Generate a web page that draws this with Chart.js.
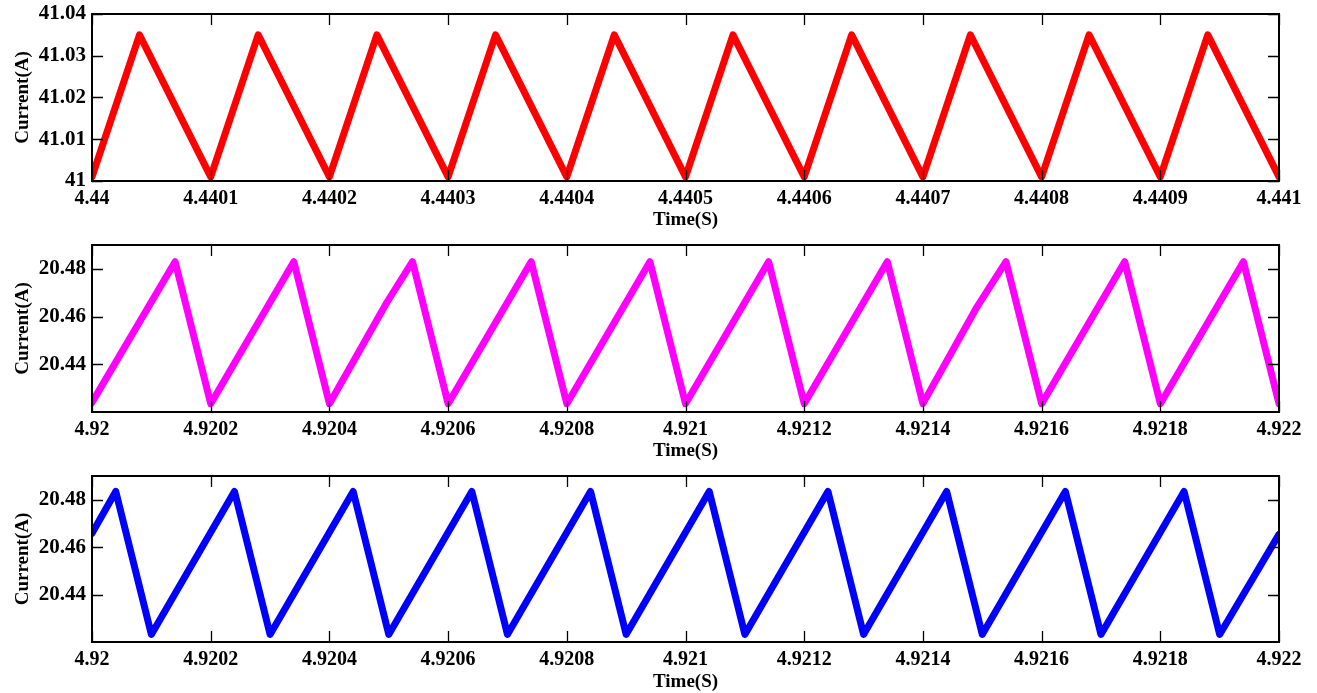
<!DOCTYPE html>
<html lang="en">
<head>
    <meta charset="UTF-8">
    <title>Current waveforms</title>
    <style>
        html, body { margin: 0; padding: 0; background: #fff; }
        .panel { position: absolute; left: 0; width: 1317px; }
        #p1 { top: 0; height: 231px; }
        #p2 { top: 231px; height: 231px; }
        #p3 { top: 462px; height: 231px; }
    </style>
</head>
<body>
    <div class="panel" id="p1"><canvas id="chart1"></canvas></div>
    <div class="panel" id="p2"><canvas id="chart2"></canvas></div>
    <div class="panel" id="p3"><canvas id="chart3"></canvas></div>

    <script src="https://cdn.jsdelivr.net/npm/chart.js"></script>
    <script>
        // Panel 1 - red triangle wave
        const time1 = [4.44, 4.44004, 4.4401, 4.44014, 4.4402, 4.44024, 4.4403, 4.44034, 4.4404, 4.44044,
                       4.4405, 4.44054, 4.4406, 4.44064, 4.4407, 4.44074, 4.4408, 4.44084, 4.4409, 4.44094, 4.441];
        const current1 = [41.001, 41.035, 41.001, 41.035, 41.001, 41.035, 41.001, 41.035, 41.001, 41.035,
                          41.001, 41.035, 41.001, 41.035, 41.001, 41.035, 41.001, 41.035, 41.001, 41.035, 41.001];
        const xTicks1 = [4.44, 4.4401, 4.4402, 4.4403, 4.4404, 4.4405, 4.4406, 4.4407, 4.4408, 4.4409, 4.441];
        const xLabels1 = ['4.44', '4.4401', '4.4402', '4.4403', '4.4404', '4.4405', '4.4406', '4.4407', '4.4408', '4.4409', '4.441'];
        const yTicks1 = [41, 41.01, 41.02, 41.03, 41.04];
        const yLabels1 = ['41', '41.01', '41.02', '41.03', '41.04'];

        // Panel 2 - magenta sawtooth
        const time2 = [4.92, 4.92014, 4.9202, 4.92034, 4.9204, 4.920497, 4.92054, 4.9206, 4.92074, 4.9208,
                       4.92094, 4.921, 4.92114, 4.9212, 4.92134, 4.9214, 4.921491, 4.92154, 4.9216, 4.92174,
                       4.9218, 4.92194, 4.922];
        const current2 = [20.424, 20.483, 20.4235, 20.483, 20.4235, 20.466, 20.483, 20.4235, 20.483, 20.4235,
                          20.483, 20.4235, 20.483, 20.4235, 20.483, 20.4235, 20.464, 20.483, 20.4235, 20.483,
                          20.4235, 20.483, 20.4235];

        // Panel 3 - blue sawtooth
        const time3 = [4.92, 4.92004, 4.9201, 4.92024, 4.9203, 4.92044, 4.9205, 4.92064, 4.9207, 4.92084,
                       4.9209, 4.92104, 4.9211, 4.92124, 4.9213, 4.92144, 4.9215, 4.92164, 4.9217, 4.92184,
                       4.9219, 4.922];
        const current3 = [20.4658, 20.4835, 20.4232, 20.4835, 20.4232, 20.4835, 20.4232, 20.4835, 20.4232, 20.4835,
                          20.4232, 20.4835, 20.4232, 20.4835, 20.4232, 20.4835, 20.4232, 20.4835, 20.4232, 20.4835,
                          20.4232, 20.4654];

        const xTicks2 = [4.92, 4.9202, 4.9204, 4.9206, 4.9208, 4.921, 4.9212, 4.9214, 4.9216, 4.9218, 4.922];
        const xLabels2 = ['4.92', '4.9202', '4.9204', '4.9206', '4.9208', '4.921', '4.9212', '4.9214', '4.9216', '4.9218', '4.922'];
        const yTicks2 = [20.44, 20.46, 20.48];
        const yLabels2 = ['20.44', '20.46', '20.48'];

        const FONT = "'Liberation Serif', 'Times New Roman', serif";

        // Box around the plot and inward tick marks on all four sides
        const frameTicks = {
            id: 'frameTicks',
            afterDatasetsDraw(chart) {
                const { ctx, chartArea: a, scales: { x, y } } = chart;
                const len = 11;
                ctx.save();
                ctx.strokeStyle = '#000';
                ctx.lineWidth = 1.3;
                ctx.beginPath();
                x.ticks.forEach(t => {
                    const px = Math.round(x.getPixelForValue(t.value)) + 0.5;
                    ctx.moveTo(px, a.bottom); ctx.lineTo(px, a.bottom - len);
                    ctx.moveTo(px, a.top); ctx.lineTo(px, a.top + len);
                });
                y.ticks.forEach(t => {
                    const py = Math.round(y.getPixelForValue(t.value)) + 0.5;
                    ctx.moveTo(a.left, py); ctx.lineTo(a.left + len, py);
                    ctx.moveTo(a.right, py); ctx.lineTo(a.right - len, py);
                });
                ctx.stroke();
                ctx.lineWidth = 2;
                ctx.strokeRect(a.left, a.top, a.right - a.left, a.bottom - a.top);
                ctx.restore();
            }
        };

        function makeChart(id, xs, ys, color, xMin, xMax, xTicks, xLabels, yMin, yMax, yTicks, yLabels, xHeight) {
            const points = xs.map((t, i) => ({ x: t, y: ys[i] }));
            return new Chart(document.getElementById(id).getContext('2d'), {
                type: 'line',
                data: {
                    datasets: [{
                        data: points,
                        borderColor: color,
                        borderWidth: 7,
                        borderJoinStyle: 'round',
                        borderCapStyle: 'round',
                        pointRadius: 0,
                        tension: 0,
                        fill: false
                    }]
                },
                options: {
                    responsive: true,
                    maintainAspectRatio: false,
                    animation: false,
                    layout: { padding: { top: 14, right: 38, left: 0, bottom: 0 } },
                    plugins: { legend: { display: false }, tooltip: { enabled: false } },
                    scales: {
                        x: {
                            type: 'linear',
                            min: xMin,
                            max: xMax,
                            grid: { display: false, drawTicks: false },
                            border: { display: false },
                            afterBuildTicks: s => { s.ticks = xTicks.map(v => ({ value: v })); },
                            afterFit: s => { s.height = xHeight; s.paddingLeft = 0; s.paddingRight = 0; },
                            ticks: {
                                autoSkip: false,
                                maxRotation: 0,
                                padding: 6,
                                color: '#000',
                                font: { family: FONT, size: 20, weight: 'bold' },
                                callback: (v, i) => xLabels[i]
                            },
                            title: {
                                display: true,
                                text: 'Time(S)',
                                color: '#000',
                                padding: { top: 0, bottom: 0 },
                                font: { family: FONT, size: 19, weight: 'bold' }
                            }
                        },
                        y: {
                            min: yMin,
                            max: yMax,
                            grid: { display: false, drawTicks: false },
                            border: { display: false },
                            afterBuildTicks: s => { s.ticks = yTicks.map(v => ({ value: v })); },
                            afterFit: s => { s.width = 92; s.paddingTop = 0; s.paddingBottom = 0; },
                            ticks: {
                                padding: 6,
                                color: '#000',
                                font: { family: FONT, size: 21, weight: 'bold' },
                                callback: (v, i) => yLabels[i]
                            },
                            title: {
                                display: true,
                                text: 'Current(A)',
                                color: '#000',
                                padding: { top: 12, bottom: 0 },
                                font: { family: FONT, size: 19, weight: 'bold' }
                            }
                        }
                    }
                },
                plugins: [frameTicks]
            });
        }

        makeChart('chart1', time1, current1, '#ff0000', 4.44, 4.441, xTicks1, xLabels1, 41, 41.04, yTicks1, yLabels1, 50);
        makeChart('chart2', time2, current2, '#ff00ff', 4.92, 4.922, xTicks2, xLabels2, 20.42, 20.49, yTicks2, yLabels2, 50);
        makeChart('chart3', time3, current3, '#0000ff', 4.92, 4.922, xTicks2, xLabels2, 20.42, 20.49, yTicks2, yLabels2, 51);
    </script>
</body>
</html>
